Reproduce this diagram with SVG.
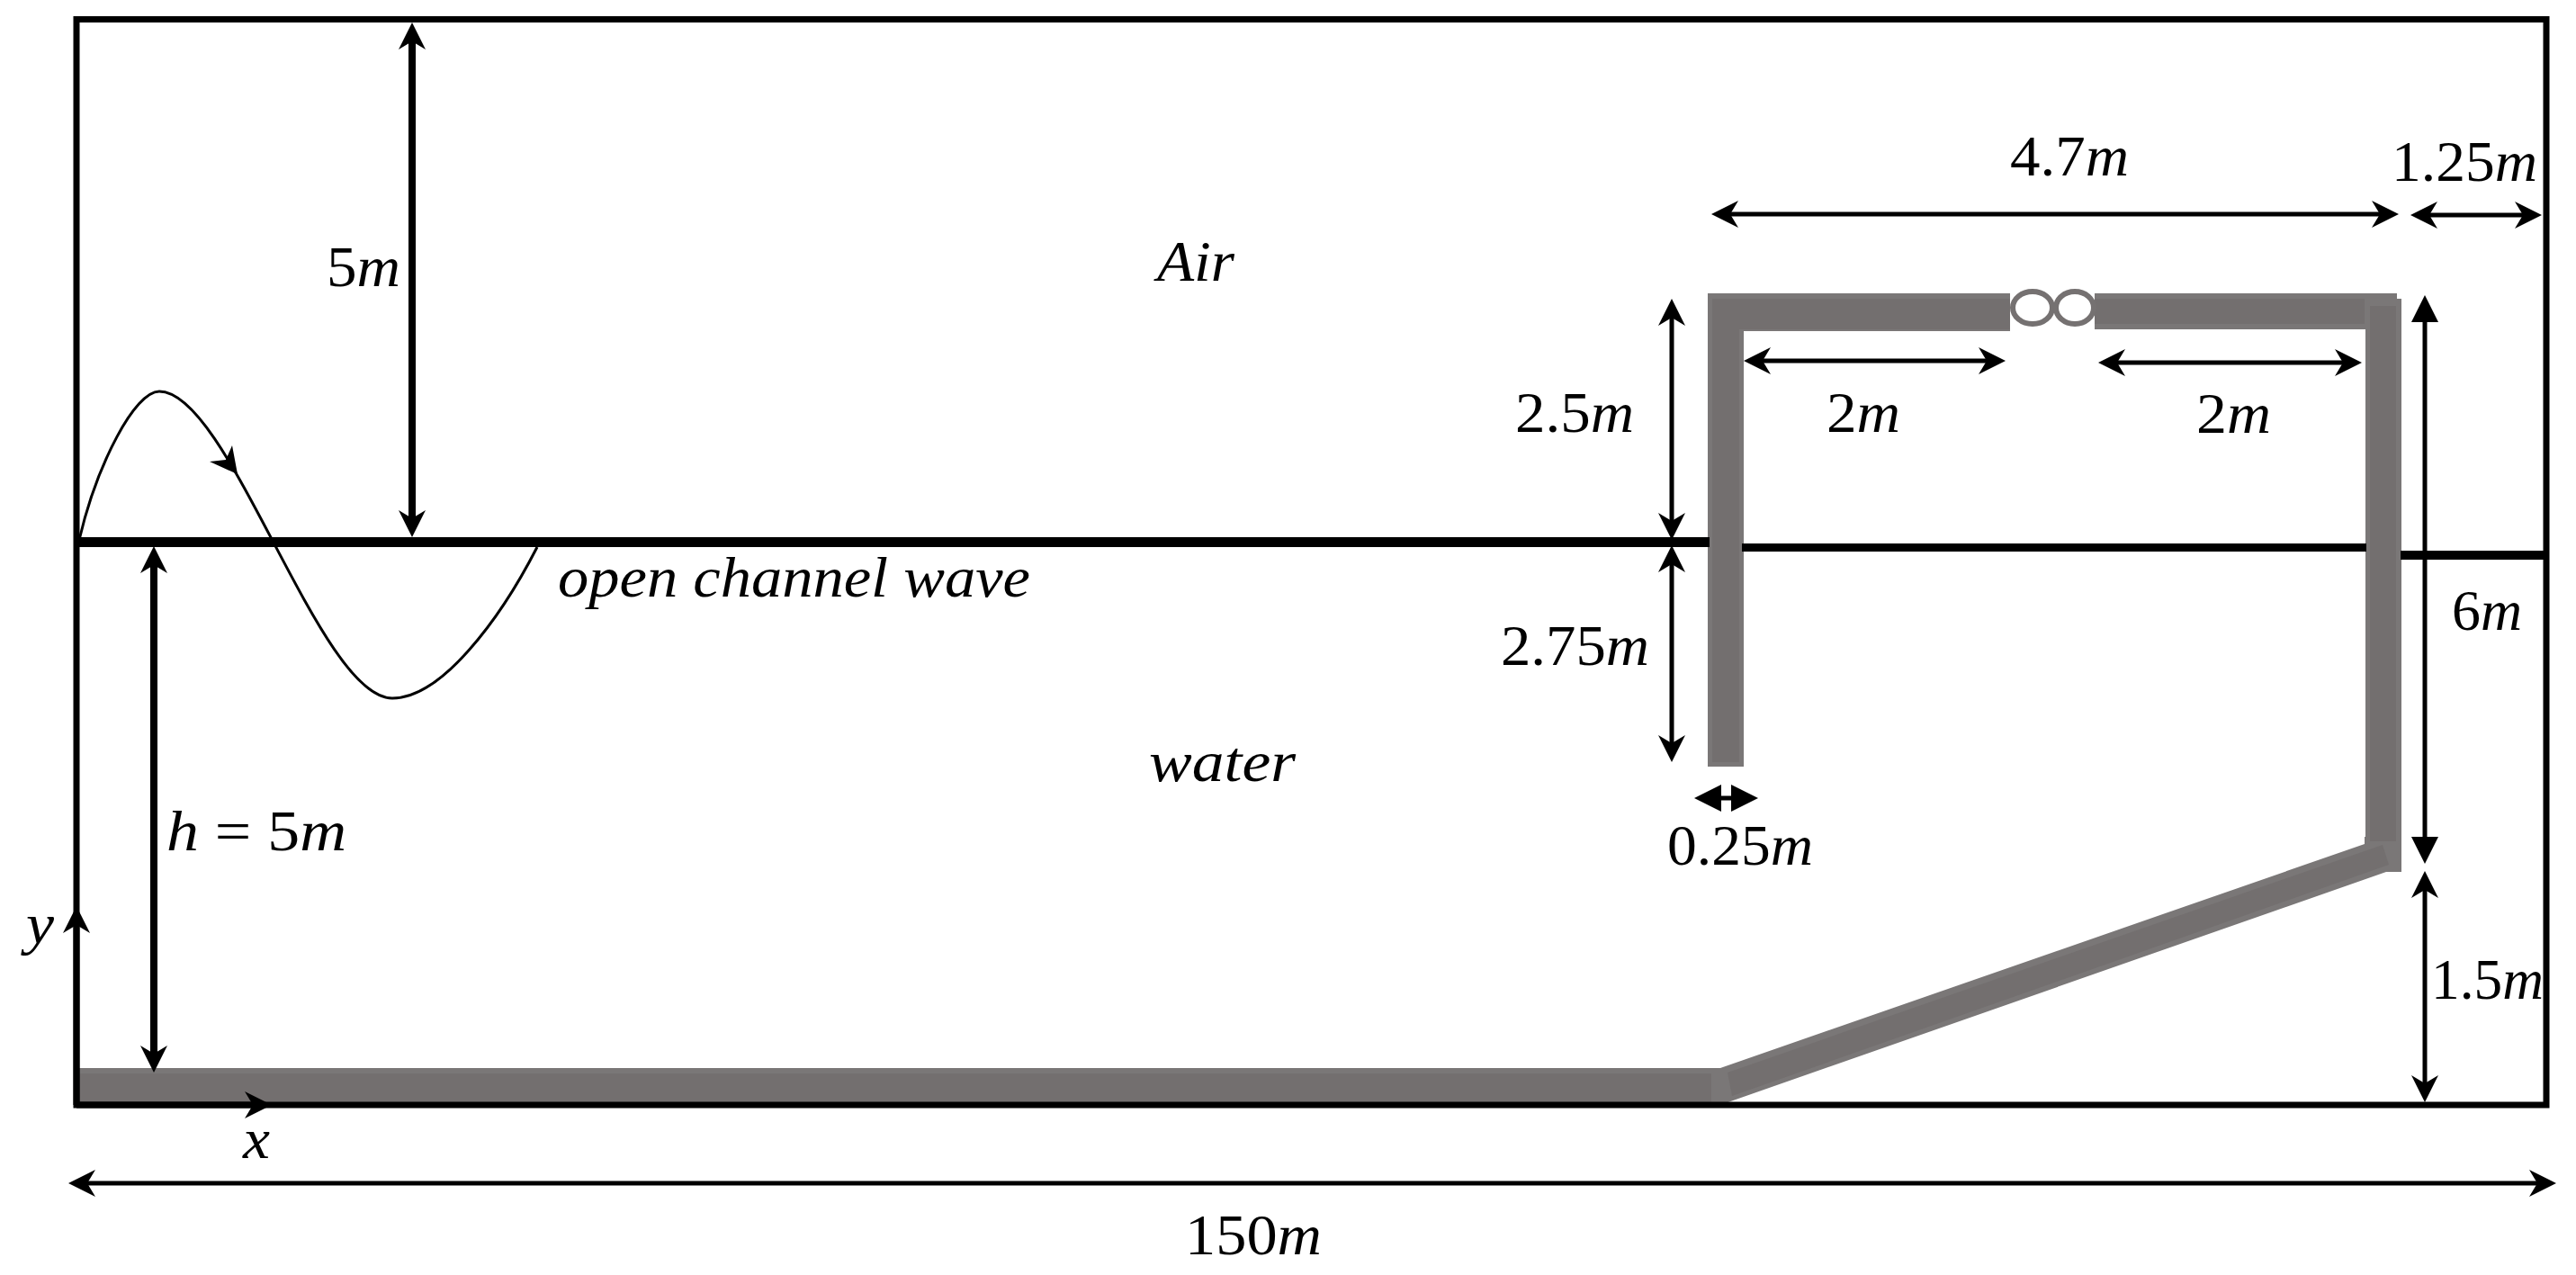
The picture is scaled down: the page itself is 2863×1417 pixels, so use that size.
<svg xmlns="http://www.w3.org/2000/svg" width="2863" height="1417" viewBox="0 0 2863 1417">
<style>
text{font-family:"Liberation Serif","Times New Roman",serif;font-size:64px;fill:#000}
.i{font-style:italic}
.wall{fill:#7a7777}
.core{fill:#736f6f}
.dim{stroke:#000;fill:none;stroke-width:5;marker-start:url(#b);marker-end:url(#b)}
.ln{stroke:#000;fill:none}
</style>
<defs>
<marker id="b" markerUnits="userSpaceOnUse" markerWidth="34" markerHeight="34" refX="22" refY="17" orient="auto-start-reverse" viewBox="0 0 34 34"><path d="M0,2 L30,17 L0,32 L9,17Z" fill="#000"/></marker>
<marker id="t" markerUnits="userSpaceOnUse" markerWidth="34" markerHeight="34" refX="22" refY="17" orient="auto-start-reverse" viewBox="0 0 34 34"><path d="M0,2 L30,17 L0,32Z" fill="#000"/></marker>
</defs>
<rect width="2863" height="1417" fill="#fff"/>
<g id="structure">
<rect class="wall" x="82" y="1187" width="1830" height="40"/>
<polygon class="wall" points="1912,1187 2628,938 2628,930 2668,930 2668,969 2652,969 1912,1228"/>
<rect class="wall" x="1898" y="326" width="336" height="42"/>
<rect class="wall" x="1898" y="326" width="40" height="526"/>
<rect class="wall" x="2328" y="326" width="336" height="40"/>
<rect class="wall" x="2629" y="332" width="40" height="637"/>
<rect class="core" x="82" y="1193" width="1820" height="32"/>
<polygon class="core" points="1920,1192 2648,939 2655,961 1925,1218"/>
<rect class="core" x="1903" y="332" width="331" height="34"/>
<rect class="core" x="1903" y="332" width="30" height="515"/>
<rect class="core" x="2328" y="332" width="300" height="28"/>
<rect class="core" x="2634" y="340" width="29" height="595"/>
</g>
<g id="valve" fill="#fff" stroke="#757171" stroke-width="6">
<ellipse cx="2259" cy="342" rx="22" ry="18"/>
<ellipse cx="2306" cy="342" rx="21" ry="18"/>
</g>
<g id="frame">
<rect x="85" y="21.5" width="2745" height="1206.5" fill="none" stroke="#000" stroke-width="7"/>
</g>
<g id="water-surface" stroke="#000">
<line x1="85" y1="602.5" x2="1900" y2="602.5" stroke-width="11"/>
<line x1="1936" y1="608.5" x2="2630" y2="608.5" stroke-width="9"/>
<line x1="2668" y1="617" x2="2830" y2="617" stroke-width="10"/>
</g>
<g id="wave">
<path d="M88,600 C108,515 150,435 177,435 C255,435 355,776 436,776 C490,776 555,690 597,608" fill="none" stroke="#000" stroke-width="3"/>
<polygon points="264,527 258,495 251,511 233,513" fill="#000"/>
</g>
<g id="connectors">
<line class="ln" x1="458" y1="33" x2="458" y2="589" stroke-width="8" marker-start="url(#b)" marker-end="url(#b)"/>
<line class="ln" x1="171" y1="615" x2="171" y2="1184" stroke-width="8" marker-start="url(#b)" marker-end="url(#b)"/>
<line class="dim" x1="1910" y1="238" x2="2658" y2="238"/>
<line class="dim" x1="2687" y1="239" x2="2817" y2="239"/>
<line class="dim" x1="1946" y1="401" x2="2221" y2="401"/>
<line class="dim" x1="2340" y1="403" x2="2617" y2="403"/>
<line class="dim" x1="1858" y1="340" x2="1858" y2="592"/>
<line class="dim" x1="1858" y1="614" x2="1858" y2="839"/>
<line class="ln" x1="2695" y1="336" x2="2695" y2="952" stroke-width="5" marker-start="url(#t)" marker-end="url(#t)"/>
<line class="dim" x1="2695" y1="976" x2="2695" y2="1217"/>
<line class="ln" x1="1891" y1="887" x2="1946" y2="887" stroke-width="5" marker-start="url(#t)" marker-end="url(#t)"/>
<line class="dim" x1="84" y1="1315" x2="2833" y2="1315"/>
<line class="ln" x1="85" y1="1228" x2="85" y2="1015" stroke-width="7" marker-end="url(#b)"/>
<line class="ln" x1="85" y1="1228" x2="294" y2="1228" stroke-width="7" marker-end="url(#b)"/>
</g>
<g id="labels">
<text x="363" y="318" textLength="82" lengthAdjust="spacingAndGlyphs">5<tspan class="i">m</tspan></text>
<text x="1286" y="312" textLength="86" lengthAdjust="spacingAndGlyphs" class="i">Air</text>
<text x="620" y="663" textLength="525" lengthAdjust="spacingAndGlyphs" class="i">open channel wave</text>
<text x="1277" y="868" textLength="163" lengthAdjust="spacingAndGlyphs" class="i">water</text>
<text x="185" y="945" textLength="200" lengthAdjust="spacingAndGlyphs"><tspan class="i">h</tspan> = 5<tspan class="i">m</tspan></text>
<text x="2234" y="195" textLength="132" lengthAdjust="spacingAndGlyphs">4.7<tspan class="i">m</tspan></text>
<text x="2658" y="201" textLength="162" lengthAdjust="spacingAndGlyphs">1.25<tspan class="i">m</tspan></text>
<text x="2030" y="480" textLength="82" lengthAdjust="spacingAndGlyphs">2<tspan class="i">m</tspan></text>
<text x="2441" y="481" textLength="83" lengthAdjust="spacingAndGlyphs">2<tspan class="i">m</tspan></text>
<text x="1684" y="480" textLength="132" lengthAdjust="spacingAndGlyphs">2.5<tspan class="i">m</tspan></text>
<text x="1668" y="739" textLength="165" lengthAdjust="spacingAndGlyphs">2.75<tspan class="i">m</tspan></text>
<text x="2725" y="700" textLength="78" lengthAdjust="spacingAndGlyphs">6<tspan class="i">m</tspan></text>
<text x="1853" y="961" textLength="162" lengthAdjust="spacingAndGlyphs">0.25<tspan class="i">m</tspan></text>
<text x="2702" y="1110" textLength="125" lengthAdjust="spacingAndGlyphs">1.5<tspan class="i">m</tspan></text>
<text x="1317" y="1394" textLength="152" lengthAdjust="spacingAndGlyphs">150<tspan class="i">m</tspan></text>
<text x="29" y="1048" textLength="31" lengthAdjust="spacingAndGlyphs" class="i">y</text>
<text x="270" y="1287" textLength="30" lengthAdjust="spacingAndGlyphs" class="i">x</text>
</g>
</svg>
